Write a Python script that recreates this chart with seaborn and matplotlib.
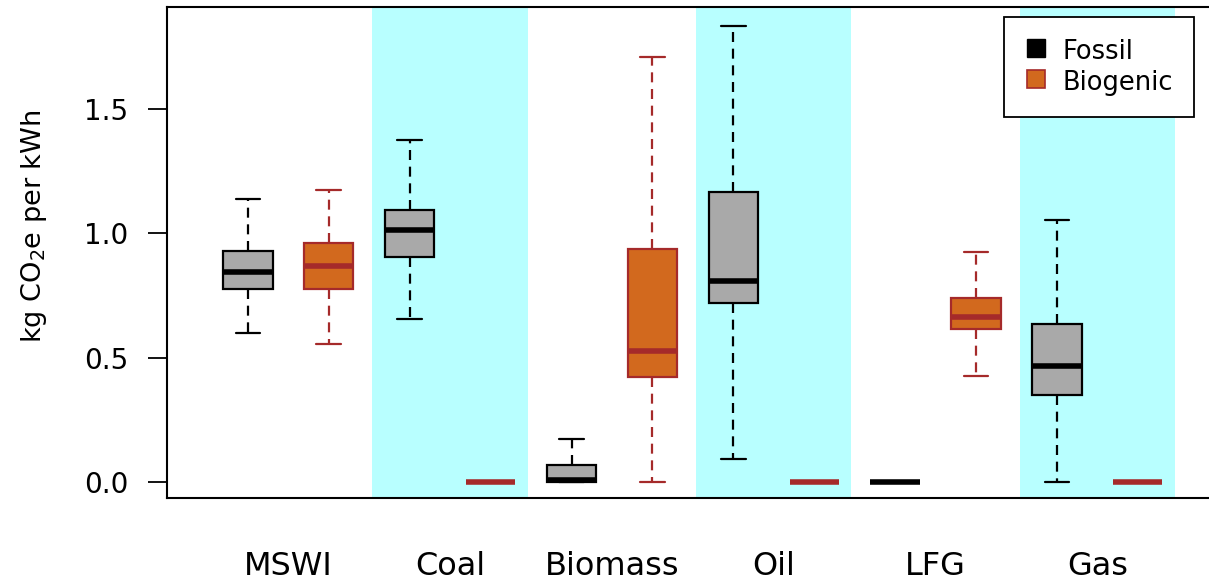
import numpy as np
import pandas as pd
import matplotlib
matplotlib.use("Agg")
import matplotlib.pyplot as plt
from matplotlib.lines import Line2D
import seaborn as sns

# ---- data (five-number summaries: min, Q1, median, Q3, max) ----
technologies = ["MSWI", "Coal", "Biomass", "Oil", "LFG", "Gas"]
sources = ["Fossil", "Biogenic"]

fossil_stats = {
    "MSWI":    [0.600, 0.776, 0.844, 0.930, 1.138],
    "Coal":    [0.655, 0.906, 1.013, 1.094, 1.375],
    "Biomass": [0.000, 0.000, 0.008, 0.068, 0.173],
    "Oil":     [0.092, 0.718, 0.808, 1.167, 1.835],
    "LFG":     [0.000, 0.000, 0.000, 0.000, 0.000],
    "Gas":     [0.000, 0.351, 0.468, 0.635, 1.053],
}
biogenic_stats = {
    "MSWI":    [0.554, 0.776, 0.867, 0.962, 1.174],
    "Coal":    [0.000, 0.000, 0.000, 0.000, 0.000],
    "Biomass": [0.000, 0.424, 0.527, 0.937, 1.710],
    "Oil":     [0.000, 0.000, 0.000, 0.000, 0.000],
    "LFG":     [0.427, 0.614, 0.662, 0.741, 0.924],
    "Gas":     [0.000, 0.000, 0.000, 0.000, 0.000],
}
shaded = ["Coal", "Oil", "Gas"]
yticks = [0.0, 0.5, 1.0, 1.5]
ytick_labels = ["0.0", "0.5", "1.0", "1.5"]

rows = []
for src, stats in (("Fossil", fossil_stats), ("Biogenic", biogenic_stats)):
    for tech in technologies:
        for v in stats[tech]:
            rows.append({"Technology": tech, "Source": src, "value": v})
df = pd.DataFrame(rows)

# ---- style ----
sns.set_style("white")
plt.rcParams["font.family"] = ["DejaVu Sans"]
plt.rcParams["mathtext.default"] = "regular"
plt.rcParams["text.color"] = "black"
plt.rcParams["axes.labelcolor"] = "black"
plt.rcParams["xtick.color"] = "black"
plt.rcParams["ytick.color"] = "black"

GRAY = "#A9A9A9"
ORANGE = "#D2691E"
BROWN = "#A52A2A"
CYAN = "#B8FFFF"

fig = plt.figure(figsize=(12.09, 5.8), dpi=100)
ax = fig.add_axes([167 / 1209, 82 / 580, 1042 / 1209, 491 / 580])

for tech in shaded:
    c = technologies.index(tech)
    ax.axvspan(c - 0.48, c + 0.48, color=CYAN, lw=0, zorder=0)

common = dict(x="Technology", y="value", hue="Source", order=technologies,
              hue_order=sources, dodge=True, width=1.0, gap=0.39, whis=np.inf,
              linewidth=1.6, legend=False, ax=ax)

sns.boxplot(data=df[df.Source == "Fossil"], palette={"Fossil": GRAY, "Biogenic": ORANGE},
            linecolor="black", saturation=1,
            whiskerprops=dict(linestyle=(0, (4.5, 3)), color="black"),
            medianprops=dict(linewidth=4, color="black", solid_capstyle="butt"),
            capprops=dict(color="black"),
            boxprops=dict(edgecolor="black"),
            **common)
sns.boxplot(data=df[df.Source == "Biogenic"], palette={"Fossil": GRAY, "Biogenic": ORANGE},
            linecolor=BROWN, saturation=1,
            whiskerprops=dict(linestyle=(0, (4.5, 3)), color=BROWN),
            medianprops=dict(linewidth=4, color=BROWN, solid_capstyle="butt"),
            capprops=dict(color=BROWN),
            boxprops=dict(edgecolor=BROWN),
            **common)

ax.set_xlim(-0.75, 5.69)
ax.set_ylim(-0.0643, 1.910)
ax.set_yticks(yticks)
ax.set_yticklabels(ytick_labels)
ax.set_xlabel("")
ax.set_ylabel("kg CO$_2$e per kWh", fontsize=19.5, color="black")
ax.yaxis.set_label_coords(-0.113, 0.554)

ax.tick_params(axis="y", direction="out", length=13.7, width=1.3, pad=14,
               labelsize=20, colors="black", labelcolor="black", left=True)
ax.tick_params(axis="x", length=0, pad=38, labelsize=23, labelcolor="black")

for side in ("left", "top", "bottom"):
    ax.spines[side].set_visible(True)
    ax.spines[side].set_color("black")
    ax.spines[side].set_linewidth(1.5)
ax.spines["right"].set_visible(False)

handles = [Line2D([], [], linestyle="none", marker="s", markersize=13,
                  markerfacecolor="black", markeredgecolor="black", label="Fossil"),
           Line2D([], [], linestyle="none", marker="s", markersize=13,
                  markerfacecolor=ORANGE, markeredgecolor=BROWN, markeredgewidth=1.2,
                  label="Biogenic")]
leg = ax.legend(handles=handles, loc="upper right", bbox_to_anchor=(0.9856, 0.9796),
                borderaxespad=0, fontsize=18.5, frameon=True, fancybox=False,
                framealpha=1, edgecolor="black", handlelength=0.9, handleheight=1.2,
                handletextpad=0.6, labelspacing=0.12, borderpad=0.8)
leg.get_frame().set_linewidth(1.3)
for t in leg.get_texts():
    t.set_color("black")

fig.savefig("out.png", dpi=100, facecolor="white")
